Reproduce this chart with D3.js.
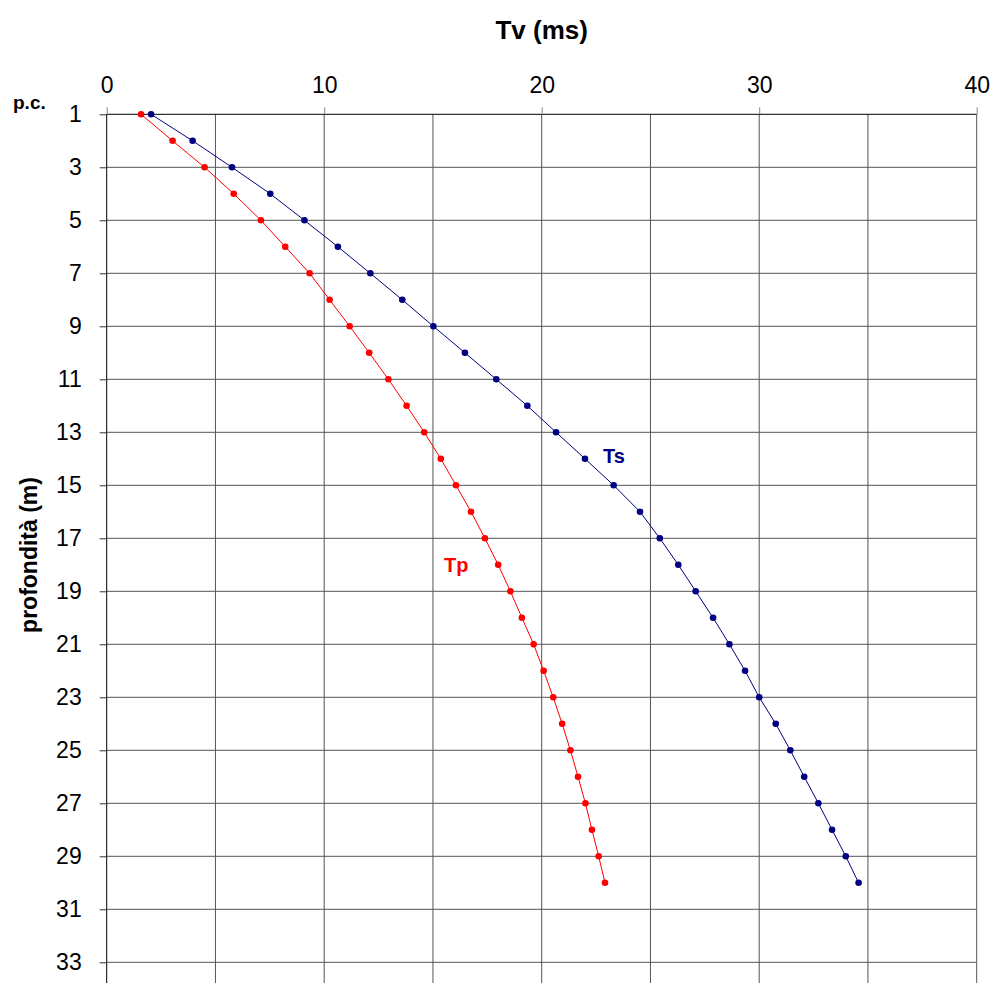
<!DOCTYPE html>
<html><head><meta charset="utf-8">
<script src="https://cdn.jsdelivr.net/npm/d3@7"></script>
<style>body{margin:0;background:#fff}svg{display:block}text{font-family:"Liberation Sans",Arial,sans-serif}</style>
</head><body>
<script>
const depths = [1,2,3,4,5,6,7,8,9,10,11,12,13,14,15,16,17,18,19,20,21,22,23,24,25,26,27,28,29,30];
const tp = [1.58,3.03,4.5,5.84,7.09,8.21,9.33,10.25,11.17,12.07,12.95,13.79,14.6,15.36,16.06,16.75,17.39,18.0,18.56,19.09,19.63,20.09,20.53,20.94,21.32,21.67,22.01,22.31,22.62,22.91];
const ts = [2.04,3.95,5.76,7.52,9.09,10.63,12.12,13.59,15.02,16.47,17.91,19.34,20.66,21.99,23.31,24.52,25.43,26.28,27.08,27.88,28.63,29.35,30.0,30.76,31.43,32.07,32.72,33.35,33.98,34.57];
const xTicks = [0,10,20,30,40];
const xGrid = [5,10,15,20,25,30,35,40];
const yTicks = [1,3,5,7,9,11,13,15,17,19,21,23,25,27,29,31,33];

const W = 995, H = 983;
const svg = d3.select("body").append("svg").attr("width", W).attr("height", H);
const x = d3.scaleLinear().domain([0,40]).range([106.7, 976.7]);
const y = d3.scaleLinear().domain([1,34]).range([114.3, 988.8]);

// grid
svg.append("g").selectAll("line").data(yTicks.slice(1)).join("line")
  .attr("x1", x(0)).attr("x2", x(40)).attr("y1", d=>y(d)).attr("y2", d=>y(d))
  .attr("stroke", "#555").attr("stroke-width", 1);
svg.append("g").selectAll("line").data(xGrid).join("line")
  .attr("x1", d=>x(d)).attr("x2", d=>x(d)).attr("y1", y(1)).attr("y2", H)
  .attr("stroke", "#555").attr("stroke-width", 1);

// top axis
const xAxis = d3.axisTop(x).tickValues(xTicks).tickSize(7).tickPadding(14).tickFormat(d3.format("d"));
const gx = svg.append("g").attr("transform", `translate(0,${y(1)})`).call(xAxis);
gx.select(".domain").attr("stroke", "#000").attr("d", `M${x(0)},0H${x(40)}`);
gx.selectAll(".tick line").attr("stroke", "#888");
gx.selectAll(".tick text").attr("font-size", 23).attr("fill", "#000").style("font-family", '"Liberation Sans",Arial,sans-serif');

// left axis
const yAxis = d3.axisLeft(y).tickValues(yTicks).tickSize(7).tickPadding(18).tickFormat(d3.format("d"));
const gy = svg.append("g").attr("transform", `translate(${x(0)},0)`).call(yAxis);
gy.select(".domain").attr("stroke", "#000").attr("d", `M0,${y(1)}V${H}`);
gy.selectAll(".tick line").attr("stroke", "#333");
gy.selectAll(".tick text").attr("font-size", 23).attr("fill", "#000").style("font-family", '"Liberation Sans",Arial,sans-serif');

// titles
svg.append("text").attr("x", x(20)).attr("y", 39).attr("text-anchor", "middle")
  .attr("font-size", 26).attr("font-weight", "bold").text("Tv (ms)");
svg.append("text").attr("transform", "translate(37,555) rotate(-90)").attr("text-anchor", "middle")
  .attr("font-size", 23).attr("font-weight", "bold").text("profondità (m)");
svg.append("text").attr("x", 13).attr("y", 109)
  .attr("font-size", 19).attr("font-weight", "bold").text("p.c.");

// series
const series = [
  {name: "Tp", vals: tp, color: "#ff0000", lx: 444, ly: 572},
  {name: "Ts", vals: ts, color: "#000080", lx: 603, ly: 463}
];
series.forEach(s => {
  const pts = depths.map((d,i) => [s.vals[i], d]);
  svg.append("path").datum(pts)
    .attr("d", d3.line().x(p=>x(p[0])).y(p=>y(p[1])))
    .attr("fill", "none").attr("stroke", s.color).attr("stroke-width", 1);
  svg.append("g").selectAll("circle").data(pts).join("circle")
    .attr("cx", p=>x(p[0])).attr("cy", p=>y(p[1])).attr("r", 3.3).attr("fill", s.color);
  svg.append("text").attr("x", s.lx).attr("y", s.ly).attr("font-size", 20)
    .attr("font-weight", "bold").attr("fill", s.color).text(s.name);
});
</script>
</body></html>
